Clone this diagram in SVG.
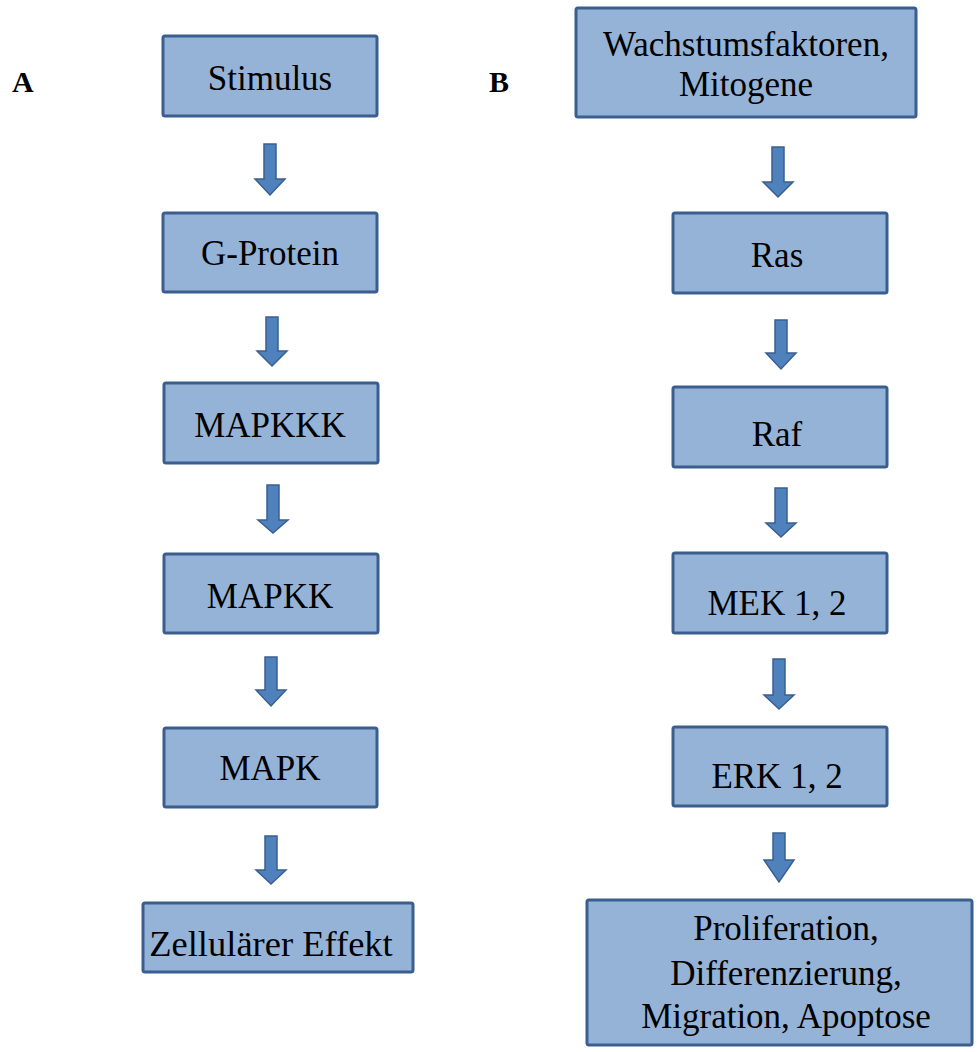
<svg xmlns="http://www.w3.org/2000/svg" width="979" height="1052" viewBox="0 0 979 1052">
<style>
.box{fill:#95b3d7;stroke:#3a5f8e;stroke-width:3}
.t{font-family:'Liberation Serif',serif;font-size:35px;fill:#000;text-anchor:middle}
.lbl{font-family:'Liberation Serif',serif;font-size:30px;font-weight:bold;fill:#000}
.arr{fill:#4f81bd;stroke:#3a5f8e;stroke-width:1.5;stroke-linejoin:miter}
</style>
<rect width="979" height="1052" fill="#fff"/>
<text class="lbl" x="12" y="92">A</text>
<text class="lbl" x="489" y="92">B</text>
<g id="stimulus"><rect class="box" x="163" y="36" width="214" height="80" rx="2"/><text class="t" x="270" y="90">Stimulus</text></g>
<g id="gprotein"><rect class="box" x="163" y="213" width="214" height="79" rx="2"/><text class="t" x="270" y="265">G-Protein</text></g>
<g id="mapkkk"><rect class="box" x="164" y="383" width="214" height="80" rx="2"/><text class="t" x="270" y="437">MAPKKK</text></g>
<g id="mapkk"><rect class="box" x="164" y="554" width="214" height="79" rx="2"/><text class="t" x="270" y="608">MAPKK</text></g>
<g id="mapk"><rect class="box" x="164" y="728" width="213" height="79" rx="2"/><text class="t" x="270" y="780">MAPK</text></g>
<g id="effekt"><rect class="box" x="143" y="903" width="270" height="69" rx="2"/><text class="t" x="271" y="956" style="font-size:36.5px">Zellulärer Effekt</text></g>
<g id="wachstum"><rect class="box" x="576" y="8" width="340" height="109" rx="2"/><text class="t" x="746" y="56">Wachstumsfaktoren,</text><text class="t" x="746" y="96">Mitogene</text></g>
<g id="ras"><rect class="box" x="673" y="213" width="214" height="80" rx="2"/><text class="t" x="777" y="267">Ras</text></g>
<g id="raf"><rect class="box" x="673" y="387" width="214" height="80" rx="2"/><text class="t" x="777" y="446">Raf</text></g>
<g id="mek"><rect class="box" x="673" y="553" width="214" height="80" rx="2"/><text class="t" x="777" y="615">MEK 1, 2</text></g>
<g id="erk"><rect class="box" x="673" y="727" width="214" height="79" rx="2"/><text class="t" x="777" y="788">ERK 1, 2</text></g>
<g id="ergebnis"><rect class="box" x="587" y="900" width="385" height="145" rx="2"/><text class="t" x="786" y="940">Proliferation,</text><text class="t" x="786" y="985">Differenzierung,</text><text class="t" x="786" y="1028">Migration, Apoptose</text></g>
<g id="connectors">
<path class="arr" d="M264,144H276V179H285L270,195L255,179H264Z"/>
<path class="arr" d="M266,317H278V351H287L272,366L257,351H266Z"/>
<path class="arr" d="M267,485H279V520H288L273,533L258,520H267Z"/>
<path class="arr" d="M265,657H277V690H286L271,706L256,690H265Z"/>
<path class="arr" d="M265,836H277V870H286L271,884L256,870H265Z"/>
<path class="arr" d="M772,147H784V182H793L778,197L763,182H772Z"/>
<path class="arr" d="M775,320H787V353H796L781,369L766,353H775Z"/>
<path class="arr" d="M775,488H787V523H796L781,537L766,523H775Z"/>
<path class="arr" d="M773,659H785V695H794L779,709L764,695H773Z"/>
<path class="arr" d="M773,833H785V860H794L779,882L764,860H773Z"/>
</g>
</svg>
